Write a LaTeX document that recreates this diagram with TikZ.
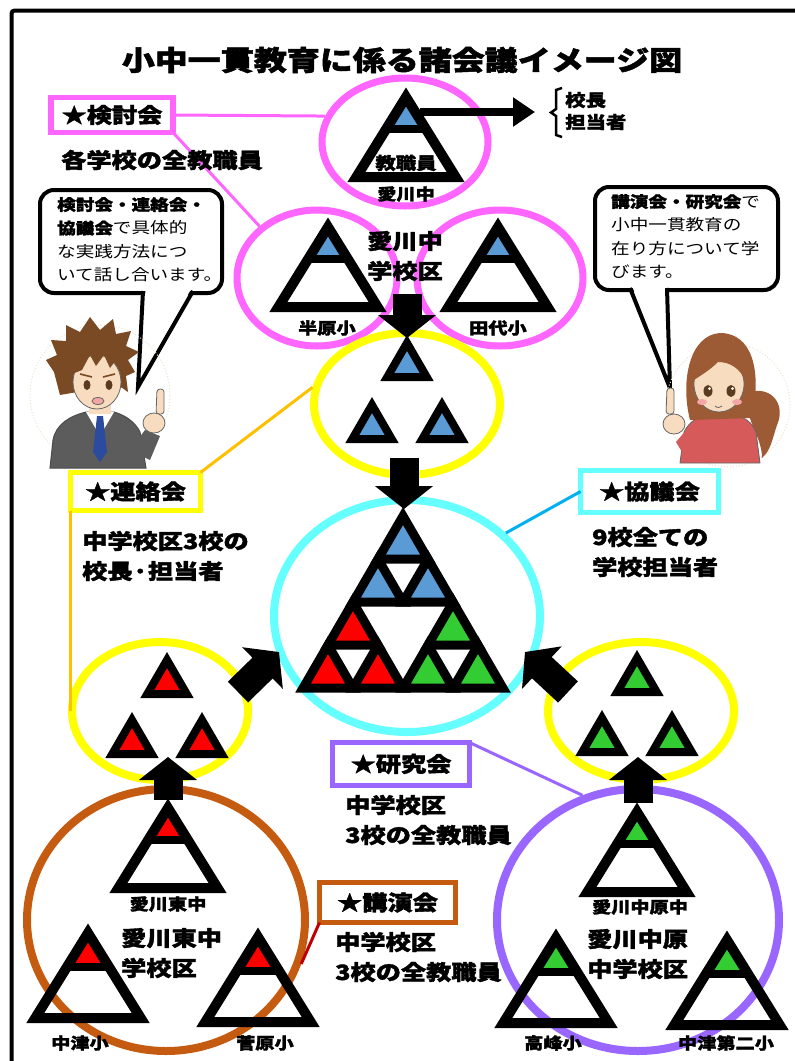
\documentclass[tikz,border=0pt]{standalone}
\usepackage{fontspec}
\setmainfont{Noto Sans CJK JP}[FakeStretch=1.2, BoldFeatures={FakeBold=1.8}]
\usetikzlibrary{arrows.meta,calc,positioning,shapes.geometric}
\definecolor{pinkc}{HTML}{FF66FF}
\definecolor{yellowc}{HTML}{FFFF00}
\definecolor{cyanc}{HTML}{66FFFF}
\definecolor{brownc}{HTML}{C55A11}
\definecolor{purplec}{HTML}{9966FF}
\definecolor{orangec}{HTML}{FFC000}
\definecolor{linkblue}{HTML}{00B0F0}
\definecolor{darkredc}{HTML}{C00000}
\definecolor{triblue}{HTML}{5B9BD5}
\definecolor{trired}{HTML}{FF0000}
\definecolor{trigreen}{HTML}{33CC33}
\definecolor{skin}{HTML}{F8DCC0}
\definecolor{hairboy}{HTML}{7A4A25}
\definecolor{hairgirl}{HTML}{9C5B34}
\definecolor{suit}{HTML}{5C5C5C}
\definecolor{tiec}{HTML}{2B4C9E}
\definecolor{topc}{HTML}{D65A5A}
\definecolor{eyec}{HTML}{5A3A20}
\definecolor{blush}{HTML}{F4A6A6}
\definecolor{halo}{HTML}{EDE3CF}

\tikzset{
  ring/.style={draw=#1, ellipse, line width=8pt, inner sep=0pt},
  tagbox/.style={draw=#1, fill=white, line width=5.5pt, inner sep=0pt, outer sep=0pt,
    font=\fontsize{21}{24}\selectfont\bfseries},
  desc/.style={font=\fontsize{21}{30}\selectfont\bfseries, align=left, inner sep=0pt},
  school/.style={font=\fontsize{16}{18}\selectfont\bfseries, inner sep=0pt},
  district/.style={font=\fontsize{21}{30}\selectfont\bfseries, inner sep=0pt},
  talk/.style={font=\fontsize{15.5}{23.5}\selectfont, align=left, inner sep=0pt},
  link/.style={line width=3pt},
  trishape/.style={line width=10pt, line join=miter},
  tile/.style={line width=#1, line join=miter},
  blockarrow/.style={line width=29pt, -{Triangle[length=23pt,width=57pt]}},
  bubble/.style={draw, fill=white, line width=4pt},
  face/.style={draw=black!60, line width=0.8pt},
}

% school triangle: apex x, apex y, height, colour of the top
\newcommand{\schooltri}[4]{%
  \fill[#4] (#1,#2) -- ++(-0.248*#3,0.4*#3) -- ++(0.496*#3,0) -- cycle;
  \draw[line width=8pt] (#1-0.26*#3,#2+0.4*#3) -- (#1+0.26*#3,#2+0.4*#3);
  \draw[trishape] (#1,#2) -- ++(-0.62*#3,#3) -- ++(1.24*#3,0) -- cycle;
}
% small coloured triangle: apex x, apex y, height, fill
\newcommand{\smalltri}[4]{%
  \filldraw[fill=#4] (#1,#2) -- ++(-0.58*#3,#3) -- ++(1.16*#3,0) -- cycle;
}

\begin{document}
\begin{tikzpicture}[x=1pt, y=-1pt]
\useasboundingbox (0,0) rectangle (795,1061);
\fill[white] (0,0) rectangle (795,1061);
\draw[line width=4pt, rounded corners=3pt] (11.5,1061) -- (11.5,10.5) -- (795,10.5);

\node[font=\fontsize{27.5}{30}\selectfont\bfseries, inner sep=0pt] (title) at (402,60)
  {小中一貫教育に係る諸会議イメージ図};

% rings
\node[ring=pinkc, line width=7pt, minimum width=166pt, minimum height=128pt] (topring) at (405,142) {};
\node[ring=pinkc, line width=7pt, minimum width=160pt, minimum height=136pt] (hanbararing) at (317,278) {};
\node[ring=pinkc, line width=7pt, minimum width=166pt, minimum height=136pt] (tashiroring) at (500,278) {};
\node[ring=yellowc, minimum width=186pt, minimum height=142pt] (blueset) at (407,404) {};
\node[ring=cyanc, minimum width=266pt, minimum height=232pt] (allring) at (407,616) {};
\node[ring=yellowc, minimum width=176pt, minimum height=138pt] (redset) at (160,711) {};
\node[ring=yellowc, minimum width=186pt, minimum height=138pt] (greenset) at (641,711) {};
\node[ring=brownc, minimum width=278pt, minimum height=262pt] (eastring) at (166,920) {};
\node[ring=purplec, minimum width=282pt, minimum height=262pt] (nakaharing) at (638,920) {};

% meeting tags
\node[tagbox=pinkc, minimum width=122pt, minimum height=35pt] (kentou) at (112,115) {★検討会};
\node[tagbox=yellowc, minimum width=130pt, minimum height=38pt] (renraku) at (135.5,491.5) {★連絡会};
\node[tagbox=cyanc, minimum width=138pt, minimum height=42pt] (kyougi) at (649.5,491.5) {★協議会};
\node[tagbox=purplec, minimum width=137pt, minimum height=43pt] (kenkyu) at (401,764) {★研究会};
\node[tagbox=brownc, minimum width=136pt, minimum height=40pt] (kouen) at (387.5,902.5) {★講演会};

\draw[link, pinkc] (kentou.east) -- (topring.162);
\draw[link, pinkc] (kentou.south east) -- (hanbararing.138);
\draw[link, orangec] (renraku.north east) -- (blueset.170);
\draw[link, orangec] (renraku.south west) -- (renraku.south west |- redset.west);
\draw[link, linkblue] (kyougi.west) -- (allring.40);
\draw[link, purplec] (kenkyu.north east) -- (nakaharing.114);
\draw[link, darkredc] (kouen.south west) -- (eastring.-18);

\node[desc, anchor=west] (kentoudesc) at (61,160) {各学校の全教職員};
\node[desc, anchor=west] (renrakudesc) at (82,556) {中学校区3校の\\校長·担当者};
\node[desc, anchor=west] (kyougidesc) at (592,552) {9校全ての\\学校担当者};
\node[desc, anchor=west] (kenkyudesc) at (345,820) {中学校区\\3校の全教職員};
\node[desc, anchor=west] (kouendesc) at (335,957) {中学校区\\3校の全教職員};

% school triangles
\schooltri{406}{97}{80}{triblue}
\schooltri{328}{227}{80}{triblue}
\schooltri{498}{227}{80}{triblue}
\schooltri{168}{808}{80}{trired}
\schooltri{88}{933}{85}{trired}
\schooltri{258}{937}{85}{trired}
\schooltri{637}{812}{80}{trigreen}
\schooltri{556}{938}{85}{trigreen}
\schooltri{727}{940}{85}{trigreen}

\node[school, font=\fontsize{17}{18}\selectfont\bfseries] (staff) at (406,163) {教職員};
\node[school] (aikawa) at (406,194) {愛川中};
\node[school] (hanbara) at (327,328) {半原小};
\node[school] (tashiro) at (498,328) {田代小};
\node[school] (east) at (168,904) {愛川東中};
\node[school] (nakatsu) at (80,1043) {中津小};
\node[school] (sugahara) at (265,1043) {菅原小};
\node[school] (nakahara) at (640,907) {愛川中原中};
\node[school] (takamine) at (553,1043) {高峰小};
\node[school] (nakatsu2) at (726,1043) {中津第二小};

\node[district, align=center] (aikawadist) at (405,256) {愛川中\\学校区};
\node[district, align=left, anchor=west] (eastdist) at (121,953) {愛川東中\\学校区};
\node[district, align=left, anchor=west] (nakaharadist) at (587,954) {愛川中原\\中学校区};

% principal / staff in charge
\coordinate (tri0) at (420,112);
\coordinate (chiefsarrow) at (535,112);
\draw[line width=8pt, -{Triangle[length=22pt,width=28pt]}] (tri0) -- (chiefsarrow);
\draw[line width=2.5pt] (562,88) -- (556,90) -- (556,109) -- (551,112.5) -- (556,116) -- (556,135) -- (562,137);
\node[school, font=\fontsize{17}{22}\selectfont\bfseries, align=left, anchor=west] (chiefs) at (565,111) {校長\\担当者};

% sierpinski of all nine schools
\begin{scope}[tile=9pt]
  \foreach \x/\y/\c in {403/516/triblue, 378/559/triblue, 428/559/triblue,
      353/602/trired, 328/645/trired, 378/645/trired,
      453/602/trigreen, 428/645/trigreen, 478/645/trigreen}
    \smalltri{\x}{\y}{43}{\c};
\end{scope}
\begin{scope}[tile=8pt]
  \foreach \x/\y/\c in {407/343/triblue, 372/405/triblue, 442/405/triblue,
      167/660/trired, 132/720/trired, 202/720/trired,
      637/658/trigreen, 602/718/trigreen, 672/718/trigreen}
    \smalltri{\x}{\y}{34}{\c};
\end{scope}

% flow arrows
\coordinate (dn1s) at (407,294); \coordinate (dn1e) at (407,338);
\coordinate (dn2s) at (404,458); \coordinate (dn2e) at (404,509);
\coordinate (ne1s) at (238,692); \coordinate (ne1e) at (279,652);
\coordinate (nw1s) at (568,692); \coordinate (nw1e) at (525,652);
\coordinate (up1s) at (168,800); \coordinate (up1e) at (168,757);
\coordinate (up2s) at (638,803); \coordinate (up2e) at (638,757);
\foreach \a in {dn1,dn2,ne1,nw1,up1,up2}
  \draw[blockarrow] (\a s) -- (\a e);

% speech bubbles
\draw[bubble, rounded corners=14pt] (40,190) rectangle (222,293);
\fill[white] (145.5,290) -- (190.5,290) -- (138,387) -- cycle;
\draw[line width=4pt, line join=miter] (143,291) -- (138,387) -- (193,291);
\node[talk, anchor=north west] (boytalk) at (57,197)
  {\textbf{検討会・連絡会・}\\\textbf{協議会}で具体的\\な実践方法につ\\いて話し合います。};

\draw[bubble, rounded corners=14pt] (595,187) rectangle (778,290);
\fill[white] (632.5,287) -- (665,287) -- (670,388) -- cycle;
\draw[line width=4pt, line join=miter] (630,288) -- (670,388) -- (667,288);
\node[talk, anchor=north west] (girltalk) at (611,194)
  {\textbf{講演会・研究会}で\\小中一貫教育の\\在り方について学\\びます。};

% boy
\draw[halo, line width=1pt, dotted] (100,395) circle[radius=70pt];
\filldraw[fill=suit, draw=black!70, line width=1pt] (50,468) -- (53,440)
  .. controls (56,424) and (70,416) .. (86,412) -- (114,412)
  .. controls (128,416) and (136,424) .. (140,432) -- (146,468) -- cycle;
\fill[white] (86,412) -- (100,436) -- (114,412) -- cycle;
\fill[tiec] (97,416) -- (103,416) -- (107,452) -- (100,462) -- (93,452) -- cycle;
\fill[skin] (89,398) rectangle (111,414);
\fill[hairboy] (60,395) -- (54,372) -- (46,360) -- (57,355) -- (51,340) -- (66,341)
  -- (66,325) -- (80,332) -- (90,317) -- (100,330) -- (113,319) -- (116,334)
  -- (131,331) -- (126,346) -- (139,352) -- (128,360) -- (135,372) -- (126,376)
  -- (128,392) -- (118,385) -- cycle;
\filldraw[fill=skin, face] (97,382) ellipse[x radius=24pt, y radius=27pt];
\fill[hairboy] (72,374) -- (73,350) -- (90,342) -- (112,343) -- (122,352) -- (122,374)
  -- (116,360) -- (110,368) -- (104,355) -- (96,366) -- (90,355) -- (82,370) -- cycle;
\draw[hairboy, line width=1.6pt] (80,374) -- (92,377) (103,377) -- (115,374);
\fill[eyec] (87,385) ellipse[x radius=3.5pt, y radius=5pt]
  (109,385) ellipse[x radius=3.5pt, y radius=5pt];
\filldraw[fill=blush, face] (98,401) ellipse[x radius=6pt, y radius=3.5pt];
\fill[suit] (130,450) -- (145,430) -- (160,436) -- (150,460) -- cycle;
\filldraw[fill=skin, face, rounded corners=3pt] (156,414) -- (157,389) -- (164,389) -- (164,414) -- cycle;
\filldraw[fill=skin, face] (154,423) ellipse[x radius=11pt, y radius=10pt];

% girl
\draw[halo, line width=1pt, dotted] (728,405) circle[radius=62pt];
\fill[hairgirl] (750,392) .. controls (772,386) and (786,405) .. (777,425)
  .. controls (772,440) and (771,450) .. (762,458)
  .. controls (762,440) and (750,425) .. (748,410) -- cycle;
\filldraw[fill=topc, face] (680,463) -- (684,432) .. controls (690,420) and (700,416) .. (710,414)
  -- (730,414) .. controls (744,416) and (752,422) .. (756,432) -- (760,463) -- cycle;
\fill[skin] (710,404) rectangle (728,416);
\fill[hairgirl] (690,420) .. controls (680,380) and (690,335) .. (720,333)
  .. controls (752,333) and (762,370) .. (752,418) -- cycle;
\filldraw[fill=skin, face] (719,384) ellipse[x radius=25pt, y radius=28pt];
\fill[hairgirl] (694,380) .. controls (694,352) and (706,343) .. (722,343)
  .. controls (738,343) and (748,356) .. (746,382)
  .. controls (740,368) and (730,362) .. (718,362)
  .. controls (710,370) and (700,376) .. (694,380) -- cycle;
\fill[eyec] (708,391) ellipse[x radius=4.5pt, y radius=6pt]
  (731,391) ellipse[x radius=4.5pt, y radius=6pt];
\fill[white] (709.5,388.5) circle[radius=1.5pt] (732.5,388.5) circle[radius=1.5pt];
\fill[blush] (702,402) ellipse[x radius=5pt, y radius=3pt]
  (737,402) ellipse[x radius=5pt, y radius=3pt];
\draw[black!60, line width=0.8pt] (715,406) .. controls (718,408) .. (722,406);
\fill[topc] (676,442) -- (688,428) -- (697,440) -- (688,462) -- cycle;
\filldraw[fill=skin, face, rounded corners=3pt] (666,414) -- (667,388) -- (674,388) -- (674,414) -- cycle;
\filldraw[fill=skin, face] (674,424) ellipse[x radius=11pt, y radius=10pt];
\end{tikzpicture}
\end{document}
